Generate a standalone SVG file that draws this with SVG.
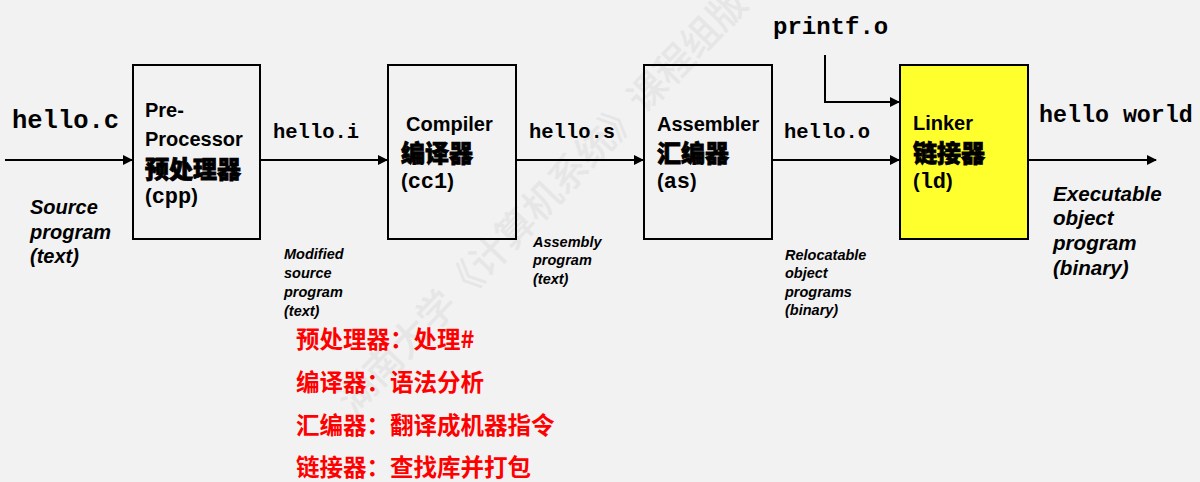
<svg xmlns="http://www.w3.org/2000/svg" width="1200" height="482" viewBox="0 0 1200 482">
<style>
.bg{fill:#f2f2f2}
.box{fill:none;stroke:#000;stroke-width:2}
.mono{font-family:"Liberation Mono","DejaVu Sans Mono",monospace;font-weight:bold;fill:#000}
.lab{font-family:"Liberation Sans",Arial,sans-serif;font-weight:bold;font-size:20px;fill:#000}
.cn{font-family:"Noto Sans CJK SC",sans-serif;font-weight:900;font-size:24px;fill:#000;stroke:#000;stroke-width:0.8}
.it{font-family:"Liberation Sans",Arial,sans-serif;font-weight:bold;font-style:italic;fill:#000}
.red{font-family:"Noto Sans CJK SC",sans-serif;font-weight:700;font-size:23.5px;fill:#ff0000}
.wm{font-family:"Noto Sans CJK SC",sans-serif;font-weight:500;font-size:38px;fill:#e6e6e6}
.edge{fill:none;stroke:#000;stroke-width:2}
</style>
<defs>
<marker id="ah" markerWidth="10" markerHeight="10" refX="9" refY="5" orient="auto" markerUnits="userSpaceOnUse">
<path d="M0,0 L10,5 L0,10 Z" fill="#000"/>
</marker>
</defs>
<rect class="bg" x="0" y="0" width="1200" height="482"/>
<g id="watermark" transform="translate(342,404) rotate(-46)">
<text class="wm" x="0" y="0" dominant-baseline="central">湖南大学《计算机系统》课程组版</text>
</g>
<g id="connectors">
<line class="edge" x1="5" y1="160" x2="132" y2="160" marker-end="url(#ah)"/>
<line class="edge" x1="261" y1="160" x2="387" y2="160" marker-end="url(#ah)"/>
<line class="edge" x1="517" y1="160" x2="643" y2="160" marker-end="url(#ah)"/>
<line class="edge" x1="773" y1="160" x2="899" y2="160" marker-end="url(#ah)"/>
<polyline class="edge" points="825,55 825,102 899,102" marker-end="url(#ah)"/>
<line class="edge" x1="1029" y1="160" x2="1156" y2="160" marker-end="url(#ah)"/>
</g>
<g id="labels">
<text class="mono" x="12" y="128" font-size="25.5">hello.c</text>
<text class="mono" x="273" y="138" font-size="20.5">hello.i</text>
<text class="mono" x="529" y="138" font-size="20.5">hello.s</text>
<text class="mono" x="784" y="138" font-size="20.5">hello.o</text>
<text class="mono" x="773" y="34" font-size="24">printf.o</text>
<text class="mono" x="1039" y="122" font-size="23.3">hello world</text>
<text class="it" font-size="20"><tspan x="30" y="214">Source</tspan><tspan x="30" y="239">program</tspan><tspan x="30" y="263">(text)</tspan></text>
<text class="it" font-size="14.5"><tspan x="284" y="259">Modified</tspan><tspan x="284" y="278">source</tspan><tspan x="284" y="297">program</tspan><tspan x="284" y="316">(text)</tspan></text>
<text class="it" font-size="14.5"><tspan x="533" y="247">Assembly</tspan><tspan x="533" y="265">program</tspan><tspan x="533" y="284">(text)</tspan></text>
<text class="it" font-size="14.5"><tspan x="785" y="260">Relocatable</tspan><tspan x="785" y="278">object</tspan><tspan x="785" y="297">programs</tspan><tspan x="785" y="315">(binary)</tspan></text>
<text class="it" font-size="20.6"><tspan x="1053" y="201">Executable</tspan><tspan x="1053" y="225">object</tspan><tspan x="1053" y="250">program</tspan><tspan x="1053" y="275">(binary)</tspan></text>
</g>
<g id="preprocessor">
<rect class="box" x="133" y="65" width="127" height="174"/>
<text class="lab" x="145" y="117">Pre-</text>
<text class="lab" x="145" y="146">Processor</text>
<text class="cn" x="145" y="178">预处理器</text>
<text class="lab" x="145" y="203" font-weight="normal">(<tspan class="mono" font-size="22">cpp</tspan>)</text>
</g>
<g id="compiler">
<rect class="box" x="388" y="65" width="128" height="174"/>
<text class="lab" x="406" y="131">Compiler</text>
<text class="cn" x="401" y="162">编译器</text>
<text class="lab" x="401" y="188" font-weight="normal">(<tspan class="mono" font-size="22">cc1</tspan>)</text>
</g>
<g id="assembler">
<rect class="box" x="644" y="65" width="128" height="174"/>
<text class="lab" x="657" y="131">Assembler</text>
<text class="cn" x="657" y="162">汇编器</text>
<text class="lab" x="657" y="188" font-weight="normal">(<tspan class="mono" font-size="22">as</tspan>)</text>
</g>
<g id="linker">
<rect class="box" x="900" y="65" width="128" height="174" style="fill:#ffff2e"/>
<text class="lab" x="913" y="130">Linker</text>
<text class="cn" x="913" y="162">链接器</text>
<text class="lab" x="913" y="188" font-weight="normal">(<tspan class="mono" font-size="22">ld</tspan>)</text>
</g>
<g id="notes">
<text class="red" x="296" y="348">预处理器：处理#</text>
<text class="red" x="296" y="391">编译器：语法分析</text>
<text class="red" x="296" y="434">汇编器：翻译成机器指令</text>
<text class="red" x="296" y="476">链接器：查找库并打包</text>
</g>
</svg>
